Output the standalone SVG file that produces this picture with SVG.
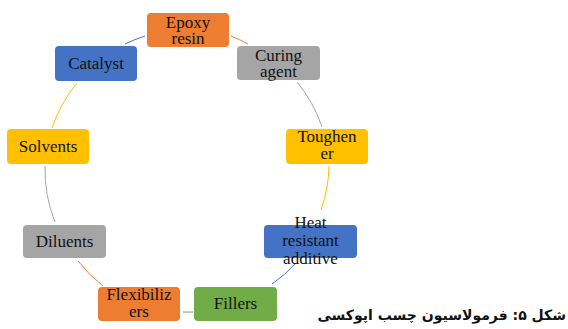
<svg xmlns="http://www.w3.org/2000/svg" width="568" height="329" viewBox="0 0 568 329">
<style>
.box{stroke:none}
.t{font-family:"Liberation Serif","Times New Roman",serif;font-size:17px;fill:#111111;text-anchor:middle}
.c{fill:none;stroke-width:1}
.cap{font-family:"DejaVu Sans",sans-serif;font-weight:bold;font-size:14px;fill:#111111}
</style>
<rect width="568" height="329" fill="#ffffff"/>
<g id="connectors">
<path class="c" stroke="#ED7D31" d="M231,36 A141,141 0 0 1 248,44"/>
<path class="c" stroke="#A5A5A5" d="M297,82 A141,141 0 0 1 322,127"/>
<path class="c" stroke="#FFC000" d="M329,166 A141,141 0 0 1 321,210"/>
<path class="c" stroke="#4472C4" d="M296,263 A141,141 0 0 1 272,284"/>
<path class="c" stroke="#70AD47" d="M193,312 A141,141 0 0 1 183,312"/>
<path class="c" stroke="#ED7D31" d="M103,286 A141,141 0 0 1 78,261"/>
<path class="c" stroke="#A5A5A5" d="M55,222 A141,141 0 0 1 45,166"/>
<path class="c" stroke="#FFC000" d="M52,128 A141,141 0 0 1 77,83"/>
<path class="c" stroke="#4472C4" d="M125,44 A141,141 0 0 1 145,36"/>
</g>
<g id="epoxy">
<rect class="box" x="147" y="13" width="82" height="34" rx="4" fill="#ED7D31"/>
<text class="t" x="188" y="27.5">Epoxy</text>
<text class="t" x="188" y="44">resin</text>
</g>
<g id="curing">
<rect class="box" x="237" y="46" width="83" height="34" rx="4" fill="#A5A5A5"/>
<text class="t" x="278.5" y="60.5">Curing</text>
<text class="t" x="278.5" y="77">agent</text>
</g>
<g id="toughener">
<rect class="box" x="286" y="129" width="82" height="35" rx="4" fill="#FFC000"/>
<text class="t" x="327" y="142">Toughen</text>
<text class="t" x="327" y="159">er</text>
</g>
<g id="heat">
<rect class="box" x="264" y="225" width="93" height="33" rx="4" fill="#4472C4"/>
<text class="t" x="310.5" y="228">Heat</text>
<text class="t" x="310.5" y="246">resistant</text>
<text class="t" x="310.5" y="264">additive</text>
</g>
<g id="fillers">
<rect class="box" x="194" y="287" width="83" height="34" rx="4" fill="#70AD47"/>
<text class="t" x="235.5" y="309">Fillers</text>
</g>
<g id="flexibilizers">
<rect class="box" x="98" y="287" width="82" height="34" rx="4" fill="#ED7D31"/>
<text class="t" x="139" y="300">Flexibiliz</text>
<text class="t" x="139" y="317">ers</text>
</g>
<g id="diluents">
<rect class="box" x="23" y="225" width="83" height="33" rx="4" fill="#A5A5A5"/>
<text class="t" x="64.5" y="247">Diluents</text>
</g>
<g id="solvents">
<rect class="box" x="7" y="129" width="82" height="35" rx="4" fill="#FFC000"/>
<text class="t" x="48" y="152">Solvents</text>
</g>
<g id="catalyst">
<rect class="box" x="55" y="46" width="82" height="35" rx="4" fill="#4472C4"/>
<text class="t" x="96" y="69">Catalyst</text>
</g>
<text class="cap" x="566" y="320" direction="rtl" text-anchor="start">شکل ۵: فرمولاسیون چسب اپوکسی</text>
</svg>
